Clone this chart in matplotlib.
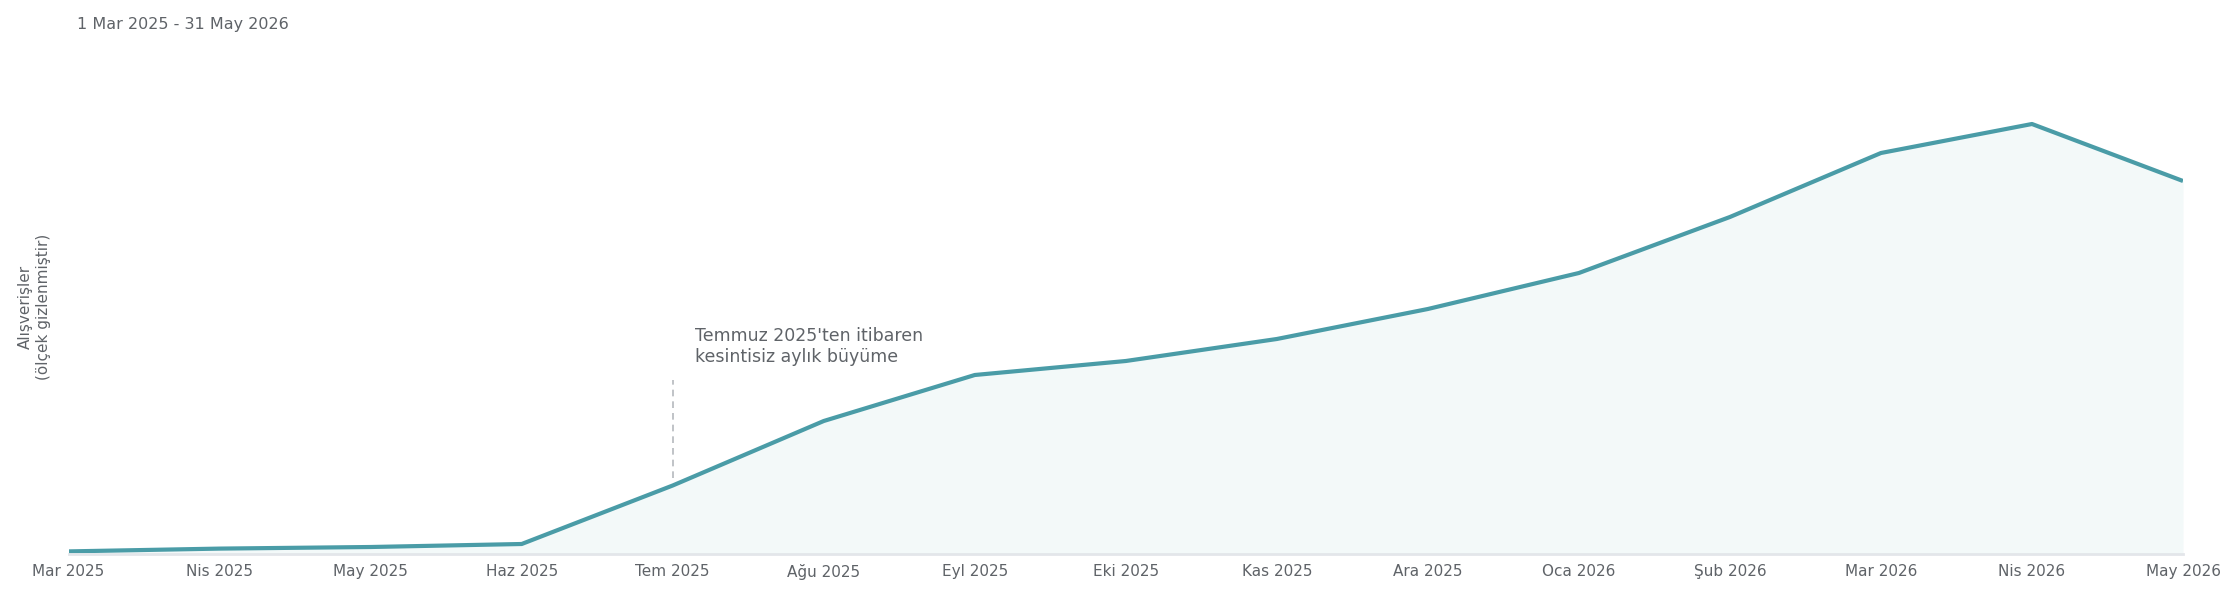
import matplotlib
matplotlib.use("Agg")
import matplotlib.pyplot as plt

# aylar (kategori ekseni) ve gizli ölçekli alışveriş değerleri
aylar = ["Mar 2025", "Nis 2025", "May 2025", "Haz 2025", "Tem 2025", "Ağu 2025",
         "Eyl 2025", "Eki 2025", "Kas 2025", "Ara 2025", "Oca 2026", "Şub 2026",
         "Mar 2026", "Nis 2026", "May 2026"]
alisverisler = [2.6, 5.4, 7, 10, 68.5, 133, 179, 193, 215, 245, 281, 337, 401, 430, 373]

baslik = "1 Mar 2025 - 31 May 2026"
ylabel = "Alışverişler\n(ölçek gizlenmiştir)"
not_metni = "Temmuz 2025'ten itibaren\nkesintisiz aylık büyüme"
not_ayi = 4  # Tem 2025

cizgi = "#4a9ca7"
dolgu = "#f3f9f9"
gri = "#5f6368"

plt.rcParams['font.family'] = ['DejaVu Sans']

fig = plt.figure(figsize=(22.4, 6), dpi=100)
ax = fig.add_axes([68.6/2240, 46/600, (2183-68.6)/2240, (554-42)/600])

x = list(range(len(aylar)))
ax.fill_between(x, alisverisler, 0, color=dolgu, lw=0)
ax.plot(x, alisverisler, color=cizgi, lw=3, solid_capstyle='butt', solid_joinstyle='round')

ax.set_xlim(0, len(aylar) - 1)
ax.set_ylim(0, 512)
ax.set_xticks(x)
ax.set_xticklabels(aylar)
ax.set_yticks([])
ax.tick_params(axis='x', length=0, pad=7, labelsize=11, labelcolor=gri)

for s in ['top', 'right', 'left']:
    ax.spines[s].set_visible(False)
ax.spines['bottom'].set_color('#e3e6ea')
ax.spines['bottom'].set_linewidth(2)

# not çizgisi ve metni
ax.plot([not_ayi, not_ayi], [76, 174], color='#b5b9bd', lw=1.2, ls=(0, (4, 3)))
ax.annotate(not_metni, xy=(not_ayi, 188), xytext=(16, 0), textcoords='offset points',
            ha='left', va='bottom', fontsize=12.5, color=gri, linespacing=1.2)

fig.text(77/2240, 1 - 24/600, baslik, ha='left', va='center', fontsize=11.5, color=gri)
fig.text(34.5/2240, 1 - 307/600, ylabel, rotation=90, ha='center', va='center',
         fontsize=11, color=gri, multialignment='center', linespacing=1.2)

fig.savefig("out.png", dpi=100, facecolor='white')
